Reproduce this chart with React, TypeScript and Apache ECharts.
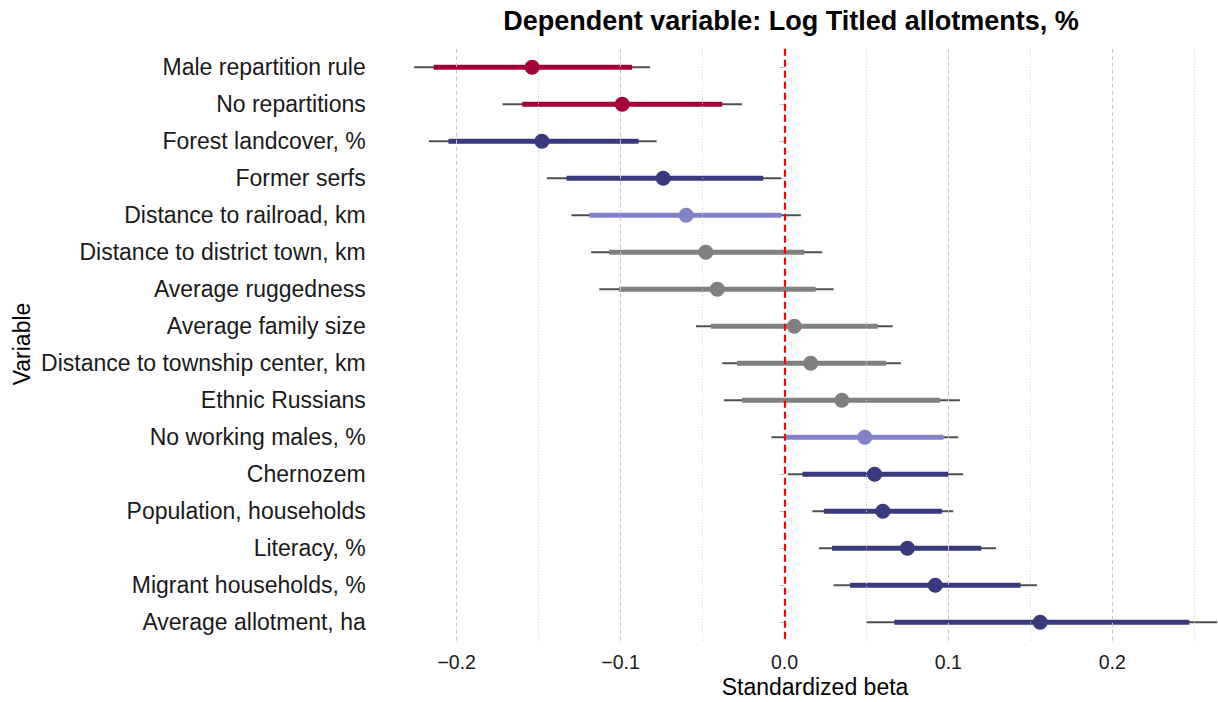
import React, { useEffect, useRef } from "react";
import * as echarts from "echarts";

// Variables, top to bottom
const categories: string[] = [
  "Male repartition rule",
  "No repartitions",
  "Forest landcover, %",
  "Former serfs",
  "Distance to railroad, km",
  "Distance to district town, km",
  "Average ruggedness",
  "Average family size",
  "Distance to township center, km",
  "Ethnic Russians",
  "No working males, %",
  "Chernozem",
  "Population, households",
  "Literacy, %",
  "Migrant households, %",
  "Average allotment, ha",
];

const estimates: number[] = [
  -0.154, -0.099, -0.148, -0.074, -0.06, -0.048, -0.041, 0.006, 0.016, 0.035,
  0.049, 0.055, 0.06, 0.075, 0.092, 0.156,
];
const innerLow: number[] = [
  -0.214, -0.16, -0.205, -0.133, -0.119, -0.107, -0.101, -0.045, -0.029, -0.026,
  0.001, 0.011, 0.024, 0.029, 0.04, 0.067,
];
const innerHigh: number[] = [
  -0.093, -0.038, -0.089, -0.013, -0.002, 0.012, 0.019, 0.057, 0.062, 0.095,
  0.097, 0.1, 0.096, 0.12, 0.144, 0.247,
];
const outerLow: number[] = [
  -0.226, -0.172, -0.217, -0.145, -0.13, -0.118, -0.113, -0.054, -0.038, -0.037,
  -0.008, 0.002, 0.017, 0.021, 0.03, 0.05,
];
const outerHigh: number[] = [
  -0.082, -0.026, -0.078, -0.002, 0.01, 0.023, 0.03, 0.066, 0.071, 0.107,
  0.106, 0.109, 0.103, 0.129, 0.154, 0.264,
];
const groups: string[] = [
  "red", "red", "dark", "dark", "light", "gray", "gray", "gray", "gray", "gray",
  "light", "dark", "dark", "dark", "dark", "dark",
];

const xTickLabels: number[] = [-0.2, -0.1, 0, 0.1, 0.2];
const majorGrid: number[] = [-0.2, -0.1, 0.1, 0.2];
const minorGrid: number[] = [-0.15, -0.05, 0.05, 0.15, 0.25];

const palette: Record<string, string> = {
  red: "#A3003A",
  dark: "#393A7D",
  light: "#8282C8",
  gray: "#808080",
};

const FONT = "'Liberation Sans', Arial, Helvetica, sans-serif";

export default function App() {
  const ref = useRef<HTMLDivElement>(null);

  useEffect(() => {
    if (!ref.current) return;
    const chart = echarts.init(ref.current, undefined, { renderer: "svg" });
    const colors = groups.map((g) => palette[g]);

    const outerData = categories.map((_, i) => [outerLow[i], outerHigh[i], i]);
    const innerData = categories.map((_, i) => [innerLow[i], innerHigh[i], i]);
    const pointData = categories.map((_, i) => ({
      value: [estimates[i], i],
      itemStyle: { color: colors[i], opacity: 1 },
    }));

    const rangeRender = (width: number, useColor: boolean) => (params: any, api: any) => {
      const lo = api.value(0);
      const hi = api.value(1);
      const idx = api.value(2);
      const p1 = api.coord([lo, idx]);
      const p2 = api.coord([hi, idx]);
      return {
        type: "line",
        shape: { x1: p1[0], y1: p1[1], x2: p2[0], y2: p2[1] },
        style: {
          stroke: useColor ? colors[params.dataIndex] : "#4f4f4f",
          lineWidth: width,
        },
      };
    };

    const option: any = {
      animation: false,
      backgroundColor: "#ffffff",
      textStyle: { fontFamily: FONT },
      grid: { left: 374.75, top: 48.8, right: 0, height: 592, containLabel: false },
      xAxis: {
        type: "value",
        min: -0.25,
        max: 0.2645,
        interval: 0.05,
        axisLine: { show: false },
        axisTick: { show: false },
        splitLine: { show: false },
        axisLabel: {
          margin: 11,
          fontSize: 19.5,
          color: "#1a1a1a",
          fontFamily: FONT,
          showMaxLabel: false,
          formatter: (v: number) => {
            const hit = xTickLabels.find((t) => Math.abs(t - v) < 1e-9);
            if (hit === undefined) return "";
            return hit < 0 ? "\u2212" + Math.abs(hit).toFixed(1) : hit.toFixed(1);
          },
        },
      },
      yAxis: {
        type: "category",
        inverse: true,
        data: categories,
        boundaryGap: true,
        axisLine: { show: false },
        axisTick: {
          show: true,
          alignWithLabel: true,
          length: 5,
          lineStyle: { color: "#c4c4c4", width: 1 },
        },
        splitLine: { show: false },
        axisLabel: {
          margin: 9,
          fontSize: 23,
          color: "#1a1a1a",
          fontFamily: FONT,
        },
      },
      graphic: [
        {
          type: "text",
          x: 791,
          y: 21,
          style: {
            text: "Dependent variable: Log Titled allotments, %",
            font: `bold 27px ${FONT}`,
            fill: "#000",
            align: "center",
            verticalAlign: "middle",
          },
        },
        {
          type: "text",
          x: 22,
          y: 344,
          rotation: Math.PI / 2,
          style: {
            text: "Variable",
            font: `23px ${FONT}`,
            fill: "#000",
            align: "center",
            verticalAlign: "middle",
          },
        },
        {
          type: "text",
          x: 815,
          y: 687,
          style: {
            text: "Standardized beta",
            font: `23px ${FONT}`,
            fill: "#000",
            align: "center",
            verticalAlign: "middle",
          },
        },
      ],
      series: [
        {
          type: "scatter",
          name: "grid",
          data: [],
          silent: true,
          z: 1,
          markLine: {
            silent: true,
            symbol: ["none", "none"],
            label: { show: false },
            animation: false,
            data: [
              ...majorGrid.map((v) => ({
                xAxis: v,
                lineStyle: { color: "#c8c8c8", width: 1, type: [4, 3] },
              })),
              ...minorGrid.map((v) => ({
                xAxis: v,
                lineStyle: { color: "#cfcfcf", width: 1, type: [1, 2] },
              })),
            ],
          },
        },
        {
          type: "custom",
          name: "outer",
          z: 2,
          silent: true,
          encode: { x: [0, 1], y: 2 },
          data: outerData,
          renderItem: rangeRender(2, false),
        },
        {
          type: "custom",
          name: "inner",
          z: 3,
          silent: true,
          encode: { x: [0, 1], y: 2 },
          data: innerData,
          renderItem: rangeRender(5, true),
        },
        {
          type: "scatter",
          name: "zero",
          data: [],
          silent: true,
          z: 4,
          markLine: {
            silent: true,
            symbol: ["none", "none"],
            label: { show: false },
            animation: false,
            data: [{ xAxis: 0, lineStyle: { color: "#ff0000", width: 2.2, type: [7, 4] } }],
          },
        },
        {
          type: "scatter",
          name: "estimate",
          z: 5,
          symbol: "circle",
          symbolSize: 15,
          silent: true,
          itemStyle: { opacity: 1 },
          data: pointData,
        },
      ],
    };

    chart.setOption(option);
    return () => chart.dispose();
  }, []);

  return (
    <div
      ref={ref}
      style={{ position: "fixed", left: 0, top: 0, width: 1218, height: 702, background: "#fff" }}
    />
  );
}
